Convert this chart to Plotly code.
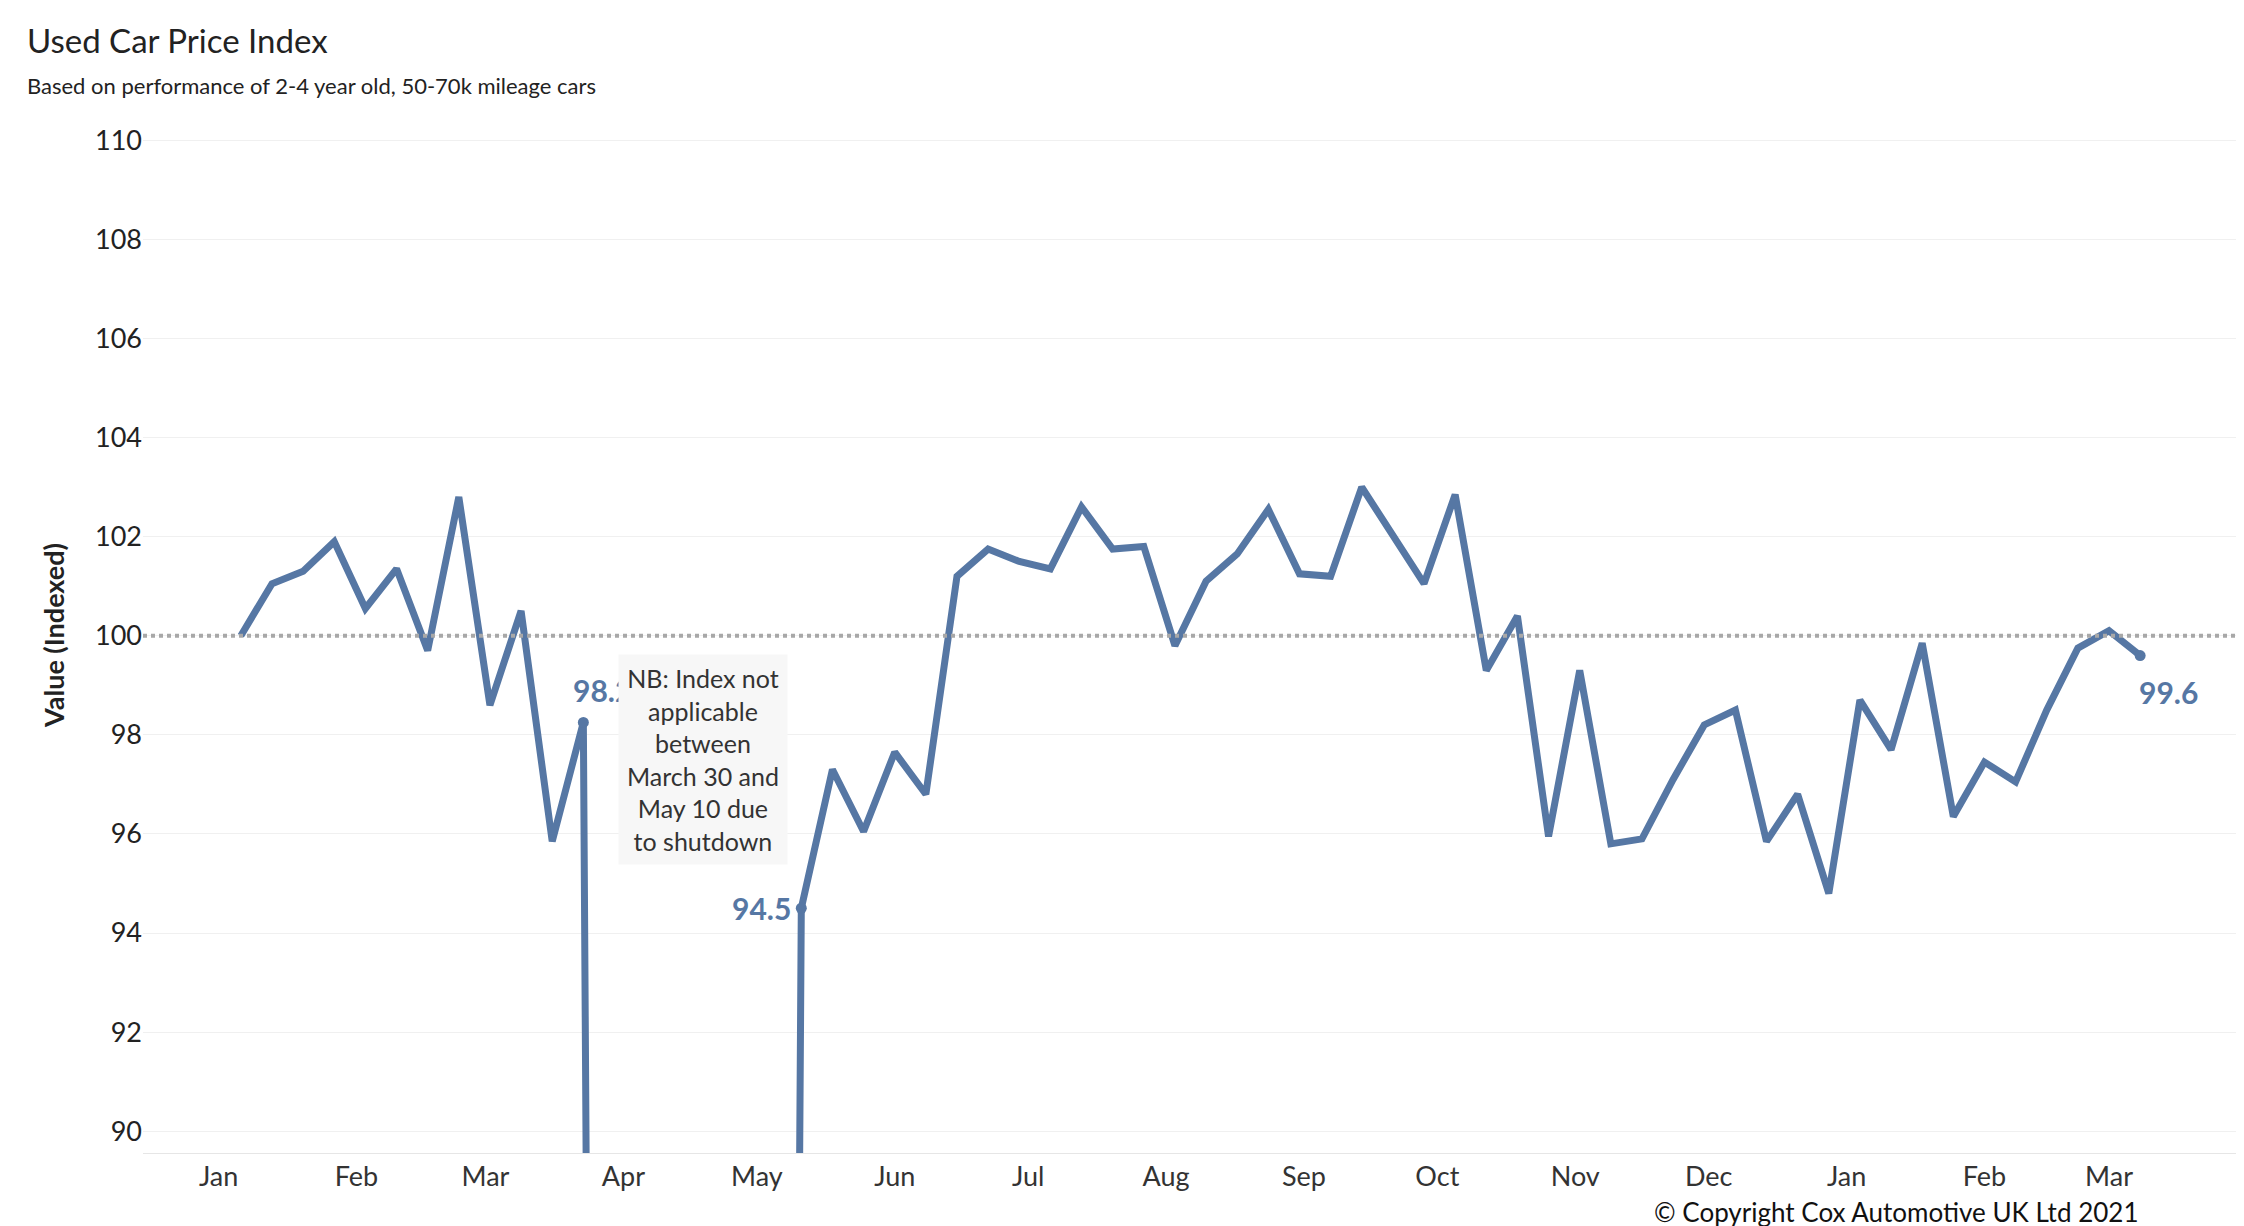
import plotly.graph_objects as go
import pandas as pd

start = "2020-01-06"
pre = [100.0, 101.05, 101.3, 101.9, 100.55, 101.35, 99.7, 102.8, 98.6, 100.5, 95.85, 98.25]
shutdown = [0, 0, 0, 0, 0, 0]
post = [94.5, 97.3, 96.05, 97.65, 96.8, 101.2, 101.75, 101.5, 101.35, 102.6, 101.75, 101.8,
        99.8, 101.1, 101.65, 102.55, 101.25, 101.2, 103.0, 102.0, 101.05, 102.85, 99.3,
        100.4, 95.95, 99.3, 95.8, 95.9, 97.1, 98.2, 98.5, 95.85, 96.8, 94.8, 98.7, 97.7,
        99.85, 96.35, 97.45, 97.05, 98.5, 99.75, 100.1, 99.6]
values = pre + shutdown + post
dates = pd.date_range(start, periods=len(values), freq="7D")

C = "#5677a4"
FONT = "Lato"
fig = go.Figure()
fig.add_trace(go.Scatter(x=dates, y=values, mode="lines", line=dict(color=C, width=7),
                         hoverinfo="x+y", showlegend=False))
fig.add_trace(go.Scatter(x=[dates[len(pre)-1], dates[len(pre)+len(shutdown)], dates[-1]],
                         y=[values[len(pre)-1], values[len(pre)+len(shutdown)], values[-1]],
                         mode="markers", marker=dict(color=C, size=11), showlegend=False))
fig.add_hline(y=100, line=dict(color="#a8a8a8", width=4, dash="dot"))

ticks = pd.date_range("2020-01-01", "2021-03-01", freq="MS")
fig.update_xaxes(range=["2019-12-15", "2021-03-30"], tickvals=ticks,
                 ticktext=[d.strftime("%b") for d in ticks], showgrid=False,
                 showline=True, linecolor="#e6e6e6", ticks="", zeroline=False,
                 tickfont=dict(size=27, color="#333"))
fig.update_yaxes(range=[89.56, 110.47], dtick=2, gridcolor="#f0f0f0", zeroline=False,
                 tickfont=dict(size=27, color="#222"),
                 title=dict(text="<b>Value (Indexed)</b>", font=dict(size=27, color="#222"), standoff=22))

ann = []
ann.append(dict(x=dates[len(pre)-1], y=values[len(pre)-1], text="<b>%.1f</b>" % values[len(pre)-1],
                showarrow=False, xanchor="right", xshift=51, yshift=32, font=dict(size=30, color=C)))
i = len(pre) + len(shutdown)
ann.append(dict(x=dates[i], y=values[i], text="<b>%.1f</b>" % values[i], showarrow=False,
                xanchor="right", xshift=-8, yshift=0, font=dict(size=30, color=C)))
ann.append(dict(x=dates[-1], y=values[-1], text="<b>%.1f</b>" % values[-1], showarrow=False,
                xanchor="left", xshift=-3, yshift=-36, font=dict(size=30, color=C)))
ann.append(dict(x="2020-04-19", y=97.5, text="NB: Index not<br>applicable<br>between<br>March 30 and<br>May 10 due<br>to shutdown",
                showarrow=False, bgcolor="#f7f7f7", borderpad=8, font=dict(size=25, color="#333", family=FONT)))
ann.append(dict(xref="paper", yref="paper", x=-0.0563, y=1.0743, xanchor="left", yanchor="middle",
                text="Used Car Price Index", showarrow=False, font=dict(size=33, color="#222")))
ann.append(dict(xref="paper", yref="paper", x=-0.0563, y=1.030, xanchor="left", yanchor="middle",
                text="Based on performance of 2-4 year old, 50-70k mileage cars", showarrow=False,
                font=dict(size=22, color="#222")))
ann.append(dict(xref="paper", yref="paper", x=0.953, y=-0.057, xanchor="right", yanchor="middle",
                text="© Copyright Cox Automotive UK Ltd 2021", showarrow=False,
                font=dict(size=26, color="#111")))

fig.update_layout(width=2244, height=1226, margin=dict(l=135, r=14, t=109, b=81),
                  plot_bgcolor="white", paper_bgcolor="white", annotations=ann,
                  font=dict(family=FONT))
fig.write_html("out.html")
